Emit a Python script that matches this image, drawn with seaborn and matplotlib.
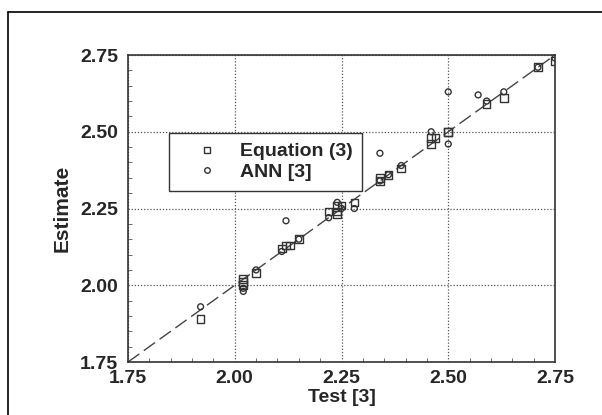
import matplotlib
matplotlib.use('Agg')
import matplotlib.pyplot as plt
from matplotlib.lines import Line2D
from matplotlib.ticker import MultipleLocator
import seaborn as sb
import pandas as pd

# Equation (3): test vs estimate
eq_test = [1.92, 2.02, 2.02, 2.02, 2.05, 2.11, 2.12, 2.13, 2.15, 2.22, 2.24, 2.24, 2.24, 2.25,
           2.28, 2.34, 2.34, 2.36, 2.39, 2.46, 2.46, 2.47, 2.50, 2.50, 2.59, 2.63, 2.71, 2.75]
eq_est = [1.89, 2.02, 2.01, 2.00, 2.04, 2.12, 2.13, 2.13, 2.15, 2.24, 2.24, 2.26, 2.23, 2.26,
          2.27, 2.35, 2.34, 2.36, 2.38, 2.46, 2.48, 2.48, 2.50, 2.50, 2.59, 2.61, 2.71, 2.73]

# ANN [3]: test vs estimate
ann_test = [1.92, 2.02, 2.02, 2.05, 2.11, 2.12, 2.15, 2.22, 2.24, 2.25, 2.28, 2.34, 2.34, 2.36,
            2.39, 2.46, 2.50, 2.50, 2.57, 2.59, 2.63, 2.71, 2.75]
ann_est = [1.93, 1.99, 1.98, 2.05, 2.11, 2.21, 2.15, 2.22, 2.27, 2.25, 2.25, 2.43, 2.34, 2.36,
           2.39, 2.50, 2.63, 2.46, 2.62, 2.60, 2.63, 2.71, 2.74]

ticks = [1.75, 2.00, 2.25, 2.50, 2.75]
labels = ["Equation (3)", "ANN [3]"]

df = pd.DataFrame({
    "Test": eq_test + ann_test,
    "Estimate": eq_est + ann_est,
    "method": [labels[0]] * len(eq_test) + [labels[1]] * len(ann_test),
})

sb.set_style("white")
plt.rcParams['font.family'] = ['Liberation Sans', 'DejaVu Sans']

fig = plt.figure(figsize=(6.02, 4.15), dpi=100, facecolor="white")
ax = fig.add_axes([128 / 602, 1 - 362 / 415, 427 / 602, 307 / 415])

# 1:1 line
ax.plot([1.75, 2.75], [1.75, 2.75], color="#444444", lw=1.0, dashes=(10, 4), zorder=1)

sb.scatterplot(data=df, x="Test", y="Estimate", style="method", markers={labels[0]: "s", labels[1]: "o"},
               size="method", sizes={labels[0]: 30, labels[1]: 18},
               color="#333333", legend=False, ax=ax, zorder=3)
for coll in ax.collections:
    coll.set_facecolor("none")
    coll.set_edgecolor("#333333")
    coll.set_linewidth(1.0)

ax.set_xlim(1.75, 2.75)
ax.set_ylim(1.75, 2.75)
ax.set_xticks(ticks)
ax.set_yticks(ticks)
ax.set_xticklabels([f"{t:.2f}" for t in ticks], fontsize=14, fontweight="bold")
ax.set_yticklabels([f"{t:.2f}" for t in ticks], fontsize=14, fontweight="bold")
ax.xaxis.set_minor_locator(MultipleLocator(0.05))
ax.yaxis.set_minor_locator(MultipleLocator(0.05))
ax.tick_params(axis="x", which="major", length=0, pad=6)
ax.tick_params(axis="y", which="major", length=0, pad=7)
ax.tick_params(which="minor", direction="in", length=3, color="#555555", bottom=True, left=True)
ax.grid(True, which="major", color="#555555", linestyle=(0, (1, 1.5)), linewidth=0.9)

for sp in ax.spines.values():
    sp.set_color("#333333")
    sp.set_linewidth(1.2)

ax.set_xlabel("Test [3]", fontsize=14, fontweight="bold", labelpad=1)
ax.set_ylabel("Estimate", fontsize=15, fontweight="bold", labelpad=6)

handles = [
    Line2D([], [], marker="s", linestyle="none", markersize=4.5, markerfacecolor="none",
           markeredgecolor="#333333"),
    Line2D([], [], marker="o", linestyle="none", markersize=4, markerfacecolor="none",
           markeredgecolor="#333333"),
]
leg = ax.legend(handles, labels, loc="upper left", bbox_to_anchor=(0.096, 0.746), fancybox=False,
                framealpha=1, edgecolor="#333333", prop={"size": 14, "weight": "bold"},
                borderpad=0.5, handletextpad=0.25, borderaxespad=0, labelspacing=0.15,
                handlelength=2.9)
leg.get_frame().set_linewidth(1.0)
leg.set_zorder(5)

# outer frame
fig.add_artist(Line2D([8 / 602, 8 / 602], [0, 1 - 12 / 415], color="black", lw=1.2))
fig.add_artist(Line2D([8 / 602, 1], [1 - 12 / 415, 1 - 12 / 415], color="black", lw=1.2))

plt.savefig("out.png", dpi=100)
plt.close()
